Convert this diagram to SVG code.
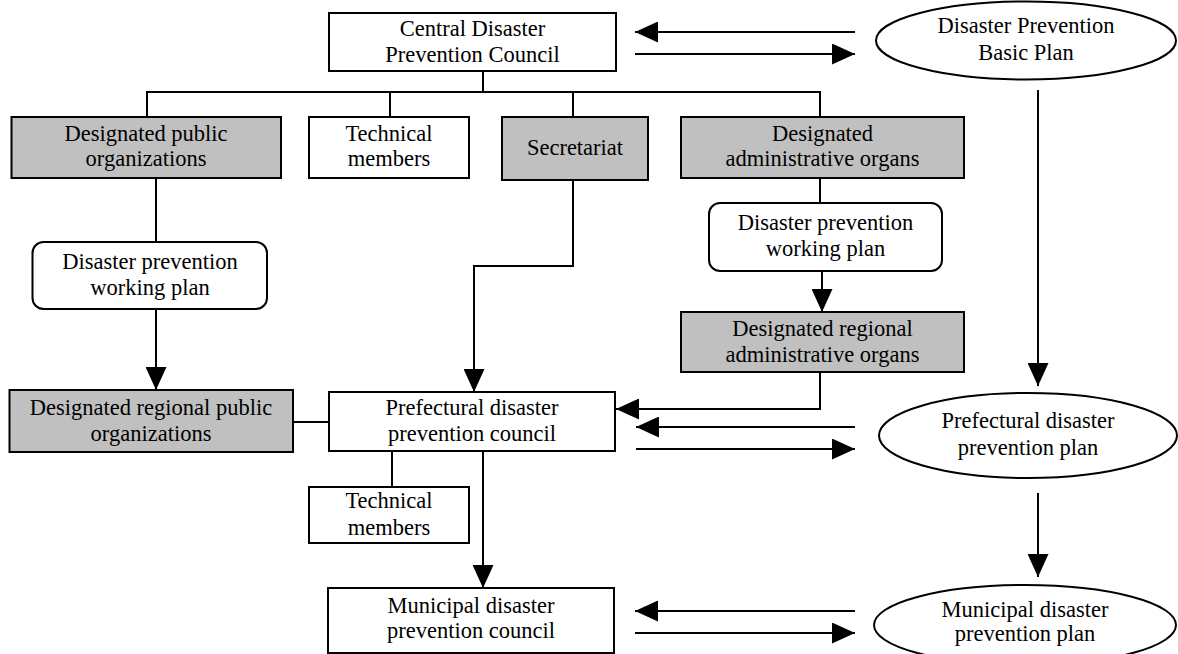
<svg xmlns="http://www.w3.org/2000/svg" width="1178" height="654" viewBox="0 0 1178 654">
<style>
.box{fill:#fff;stroke:#000;stroke-width:2}
.gray{fill:#c0c0c0;stroke:#000;stroke-width:2}
.el{fill:#fff;stroke:#000;stroke-width:2}
.ln{fill:none;stroke:#000;stroke-width:2}
.ar{fill:none;stroke:#000;stroke-width:2;marker-end:url(#ah)}
text{font-family:"Liberation Serif","Times New Roman",serif;font-size:22.5px;text-anchor:middle;fill:#000}
</style>
<defs>
<marker id="ah" markerUnits="userSpaceOnUse" markerWidth="23" markerHeight="21" refX="23" refY="10.5" orient="auto">
<path d="M0,0 L23,10.5 L0,21 z" fill="#000"/>
</marker>
</defs>
<rect width="1178" height="654" fill="#fff"/>
<g id="connectors">
<line class="ln" x1="483" y1="71" x2="483" y2="92"/>
<polyline class="ln" points="147,117 147,92 820,92 820,117"/>
<line class="ln" x1="390" y1="92" x2="390" y2="117"/>
<line class="ln" x1="573" y1="92" x2="573" y2="117"/>
<line class="ar" x1="855" y1="32" x2="635" y2="32"/>
<line class="ar" x1="635" y1="54" x2="855" y2="54"/>
<line class="ar" x1="1038" y1="90" x2="1038" y2="386"/>
<line class="ln" x1="156" y1="178" x2="156" y2="242"/>
<line class="ar" x1="156" y1="309" x2="156" y2="390"/>
<line class="ln" x1="293" y1="422" x2="329" y2="422"/>
<polyline class="ar" points="573,180 573,266 474,266 474,392"/>
<line class="ln" x1="820" y1="178" x2="820" y2="203"/>
<line class="ar" x1="822" y1="271" x2="822" y2="312"/>
<polyline class="ar" points="820,372 820,409 616,409"/>
<line class="ar" x1="855" y1="427" x2="636" y2="427"/>
<line class="ar" x1="636" y1="449" x2="855" y2="449"/>
<line class="ar" x1="1038" y1="493" x2="1038" y2="577"/>
<line class="ar" x1="855" y1="611" x2="635" y2="611"/>
<line class="ar" x1="635" y1="633" x2="855" y2="633"/>
<line class="ln" x1="392" y1="451" x2="392" y2="487"/>
<line class="ar" x1="483" y1="451" x2="483" y2="588"/>
</g>
<g id="central">
<rect class="box" x="329" y="13" width="287" height="58"/>
<text x="472.5" y="36">Central Disaster</text>
<text x="472.5" y="62">Prevention Council</text>
</g>
<g id="basic-plan">
<ellipse class="el" cx="1026" cy="40.5" rx="150" ry="39"/>
<text x="1026" y="33">Disaster Prevention</text>
<text x="1026" y="60">Basic Plan</text>
</g>
<g id="public-orgs">
<rect class="gray" x="11.5" y="117" width="269.5" height="61"/>
<text x="146" y="141">Designated public</text>
<text x="146" y="166">organizations</text>
</g>
<g id="tech1">
<rect class="box" x="309" y="117" width="160" height="61"/>
<text x="389" y="141">Technical</text>
<text x="389" y="166">members</text>
</g>
<g id="secretariat">
<rect class="gray" x="502" y="117" width="146" height="63"/>
<text x="575" y="155">Secretariat</text>
</g>
<g id="admin-organs">
<rect class="gray" x="681" y="117" width="283" height="61"/>
<text x="822.5" y="141">Designated</text>
<text x="822.5" y="166">administrative organs</text>
</g>
<g id="working-plan-1">
<rect class="box" x="32.5" y="242" width="234.5" height="67" rx="11"/>
<text x="150" y="269">Disaster prevention</text>
<text x="150" y="295">working plan</text>
</g>
<g id="working-plan-2">
<rect class="box" x="709" y="203" width="233" height="68" rx="11"/>
<text x="825.5" y="230">Disaster prevention</text>
<text x="825.5" y="256">working plan</text>
</g>
<g id="regional-admin">
<rect class="gray" x="681" y="312" width="283" height="60"/>
<text x="822.5" y="336">Designated regional</text>
<text x="822.5" y="362">administrative organs</text>
</g>
<g id="regional-public">
<rect class="gray" x="9.5" y="390" width="283.5" height="62"/>
<text x="151" y="415">Designated regional public</text>
<text x="151" y="441">organizations</text>
</g>
<g id="prefectural-council">
<rect class="box" x="329" y="392" width="286" height="59"/>
<text x="472" y="415">Prefectural disaster</text>
<text x="472" y="441">prevention council</text>
</g>
<g id="prefectural-plan">
<ellipse class="el" cx="1028" cy="435.5" rx="149" ry="42.5"/>
<text x="1028" y="428">Prefectural disaster</text>
<text x="1028" y="455">prevention plan</text>
</g>
<g id="tech2">
<rect class="box" x="309" y="487" width="160" height="56"/>
<text x="389" y="508">Technical</text>
<text x="389" y="535">members</text>
</g>
<g id="municipal-council">
<rect class="box" x="328" y="588" width="286" height="65"/>
<text x="471" y="613">Municipal disaster</text>
<text x="471" y="638">prevention council</text>
</g>
<g id="municipal-plan">
<ellipse class="el" cx="1025" cy="625" rx="151" ry="40"/>
<text x="1025" y="617">Municipal disaster</text>
<text x="1025" y="641">prevention plan</text>
</g>
</svg>
